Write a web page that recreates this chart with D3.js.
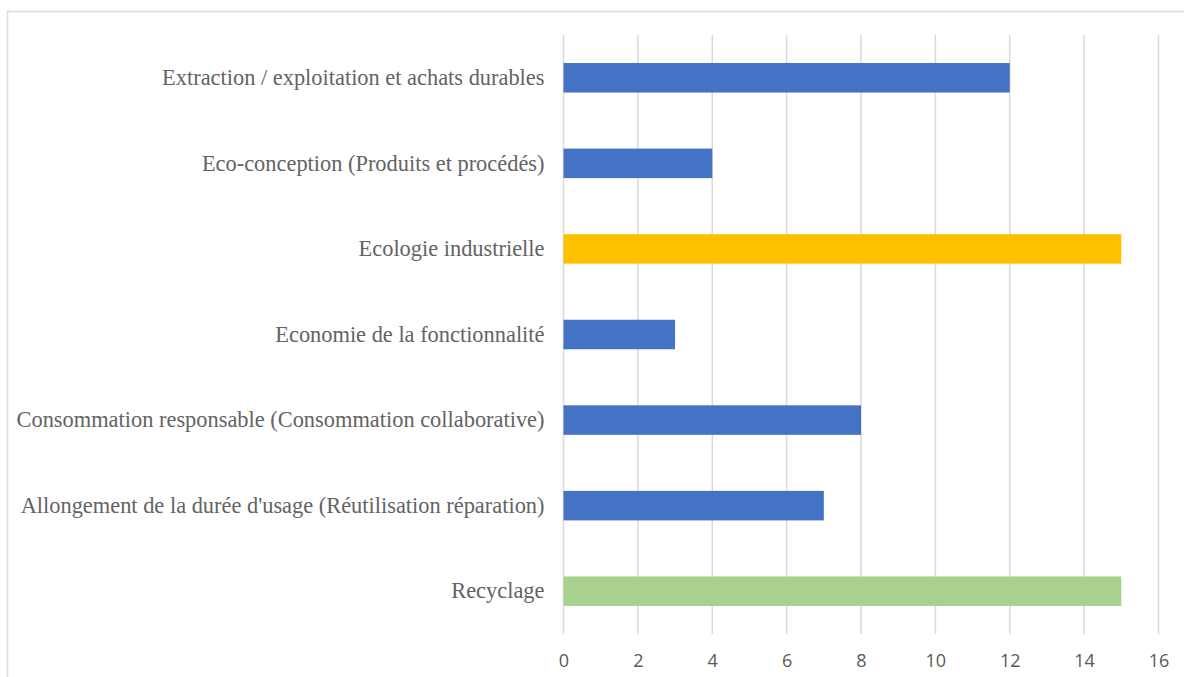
<!DOCTYPE html>
<html>
<head>
<meta charset="utf-8">
<script src="https://cdn.jsdelivr.net/npm/d3@7"></script>
<style>
html,body{margin:0;padding:0;background:#fff;}
svg{display:block;}
</style>
</head>
<body>
<svg id="chart" width="1184" height="677"></svg>
<script>
const categories = [
  "Extraction / exploitation et achats durables",
  "Eco-conception (Produits et procédés)",
  "Ecologie industrielle",
  "Economie de la fonctionnalité",
  "Consommation responsable (Consommation collaborative)",
  "Allongement de la durée d'usage (Réutilisation réparation)",
  "Recyclage"
];
const values = [12, 4, 15, 3, 8, 7, 15];
const barColors = ["#4472C4", "#4472C4", "#FFC000", "#4472C4", "#4472C4", "#4472C4", "#A9D18E"];
const tickValues = [0, 2, 4, 6, 8, 10, 12, 14, 16];

const svg = d3.select("#chart");

// outer frame (top and left edges visible)
svg.append("rect").attr("x", 7.5).attr("y", 11.5).attr("width", 1200).attr("height", 700)
  .attr("fill", "none").attr("stroke", "#D9D9D9").attr("stroke-width", 1.5);

const plot = {left: 563.5, right: 1158.5, top: 35, bottom: 634};

const x = d3.scaleLinear().domain([0, 16]).range([plot.left, plot.right]);
const y = d3.scaleBand().domain(categories).range([plot.top, plot.bottom]).paddingInner(0.655).paddingOuter(0.3275);

// gridlines
svg.append("g").selectAll("line").data(tickValues).join("line")
  .attr("x1", d => x(d)).attr("x2", d => x(d))
  .attr("y1", plot.top).attr("y2", plot.bottom)
  .attr("stroke", "#D9D9D9").attr("stroke-width", 1.5);

// bars
svg.append("g").selectAll("rect").data(categories).join("rect")
  .attr("x", x(0))
  .attr("y", d => y(d))
  .attr("height", y.bandwidth())
  .attr("width", (d, i) => x(values[i]) - x(0))
  .attr("fill", (d, i) => barColors[i]);

// x axis labels
const xAxis = d3.axisBottom(x).tickValues(tickValues).tickSize(0).tickPadding(0);
const gx = svg.append("g").attr("transform", `translate(0,${plot.bottom + 33})`).call(xAxis);
gx.select(".domain").remove();
gx.selectAll("text").attr("font-family", "'Open Sans', sans-serif").attr("font-size", 18)
  .attr("fill", "#595959").attr("dy", 0);

// y axis labels
const yAxis = d3.axisLeft(y).tickSize(0).tickPadding(19);
const gy = svg.append("g").attr("transform", `translate(${plot.left},0)`).call(yAxis);
gy.select(".domain").remove();
gy.selectAll("text").attr("font-family", "'Liberation Serif', 'Times New Roman', serif")
  .attr("font-size", 22.4).attr("fill", "#636363");
</script>
</body>
</html>
